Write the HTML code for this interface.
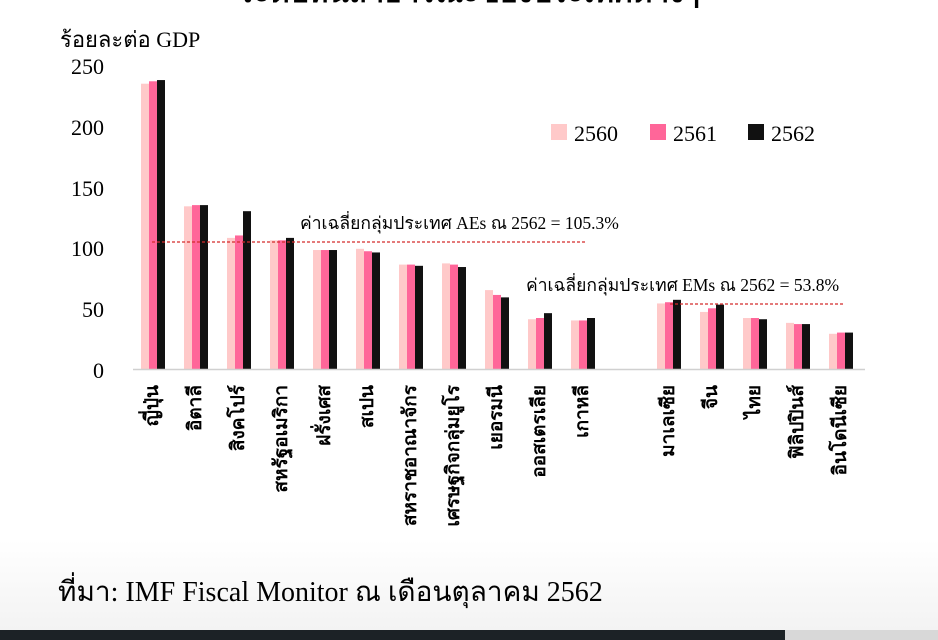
<!DOCTYPE html>
<html><head><meta charset="utf-8"><style>
html,body{margin:0;padding:0;background:#fff;width:938px;height:640px;overflow:hidden}
svg{display:block}
.t{font-family:"Liberation Serif",serif;fill:#000}
.s{font-family:"Liberation Sans","DejaVu Sans",sans-serif;fill:#000}
</style></head><body>
<svg width="938" height="640" viewBox="0 0 938 640" xmlns="http://www.w3.org/2000/svg">
<defs><linearGradient id="g" x1="0" y1="0" x2="0" y2="1"><stop offset="0" stop-color="#fff"/><stop offset="1" stop-color="#f3f3f3"/></linearGradient></defs>
<rect x="0" y="540" width="938" height="90" fill="url(#g)"/>
<text x="469" y="2" text-anchor="middle" class="t" font-size="30" font-weight="bold">ระดับหนี้สาธารณะของประเทศต่างๆ</text>
<text x="60" y="47" class="t" font-size="22">ร้อยละต่อ GDP</text>
<g class="t" font-size="22" text-anchor="end">
<text x="104" y="74">250</text><text x="104" y="135">200</text><text x="104" y="196">150</text>
<text x="104" y="256">100</text><text x="104" y="317">50</text><text x="104" y="378">0</text>
</g>
<g id="bars"></g>
<line x1="133" y1="369.5" x2="865" y2="369.5" stroke="#d0d0d0" stroke-width="1.5"/>
<line x1="152" y1="242" x2="585" y2="242" stroke="#d42a2a" stroke-width="1.2" stroke-dasharray="3,2"/>
<line x1="670" y1="304" x2="843" y2="304" stroke="#d42a2a" stroke-width="1.2" stroke-dasharray="3,2"/>
<text x="300" y="229" class="t" font-size="17.5">ค่าเฉลี่ยกลุ่มประเทศ AEs ณ 2562 = 105.3%</text>
<text x="526" y="291" class="t" font-size="17.5">ค่าเฉลี่ยกลุ่มประเทศ EMs ณ 2562 = 53.8%</text>
<rect x="551" y="124" width="16" height="16" fill="#ffc9c9"/>
<rect x="650" y="124" width="16" height="16" fill="#ff6699"/>
<rect x="748" y="124" width="16" height="16" fill="#111"/>
<g class="t" font-size="22"><text x="574" y="141">2560</text><text x="673" y="141">2561</text><text x="771" y="141">2562</text></g>
<text x="58" y="601" class="t" font-size="28">ที่มา: IMF Fiscal Monitor ณ เดือนตุลาคม 2562</text>
<rect x="0" y="630" width="785" height="10" fill="#1c2226"/>
<rect x="785" y="630" width="153" height="10" fill="#d8d8d8"/>
<g id="labels"></g>
</svg>
<script>
var d=[["ญี่ปุ่น",235,237,238],["อิตาลี",134,135,135],["สิงคโปร์",108,110,130],["สหรัฐอเมริกา",106,106,108],["ฝรั่งเศส",98,98,98],["สเปน",99,97,96],["สหราชอาณาจักร",86,86,85],["เศรษฐกิจกลุ่มยูโร",87,86,84],["เยอรมนี",65,61,59],["ออสเตรเลีย",41,42,46],["เกาหลี",40,40,42],["มาเลเซีย",54,55,57],["จีน",47,50,53],["ไทย",42,42,41],["ฟิลิปปินส์",38,37,37],["อินโดนีเซีย",29,30,30]];
var xs=[141,184,227,270,313,356,399,442,485,528,571,657,700,743,786,829];
var cols=["#ffc9c9","#ff6699","#111"];
var ns="http://www.w3.org/2000/svg",b=document.getElementById("bars"),l=document.getElementById("labels");
d.forEach(function(r,i){for(var k=0;k<3;k++){var h=r[k+1]*1.214;var e=document.createElementNS(ns,"rect");e.setAttribute("x",xs[i]+k*8);e.setAttribute("y",369-h);e.setAttribute("width",8);e.setAttribute("height",h);e.setAttribute("fill",cols[k]);b.appendChild(e);}
var t=document.createElementNS(ns,"text");t.setAttribute("class","s");t.setAttribute("font-size","19");t.setAttribute("font-weight","bold");t.setAttribute("text-anchor","end");t.setAttribute("transform","translate("+(xs[i]+17)+",385) rotate(-90)");t.textContent=r[0];l.appendChild(t);});
</script>
</body></html>
